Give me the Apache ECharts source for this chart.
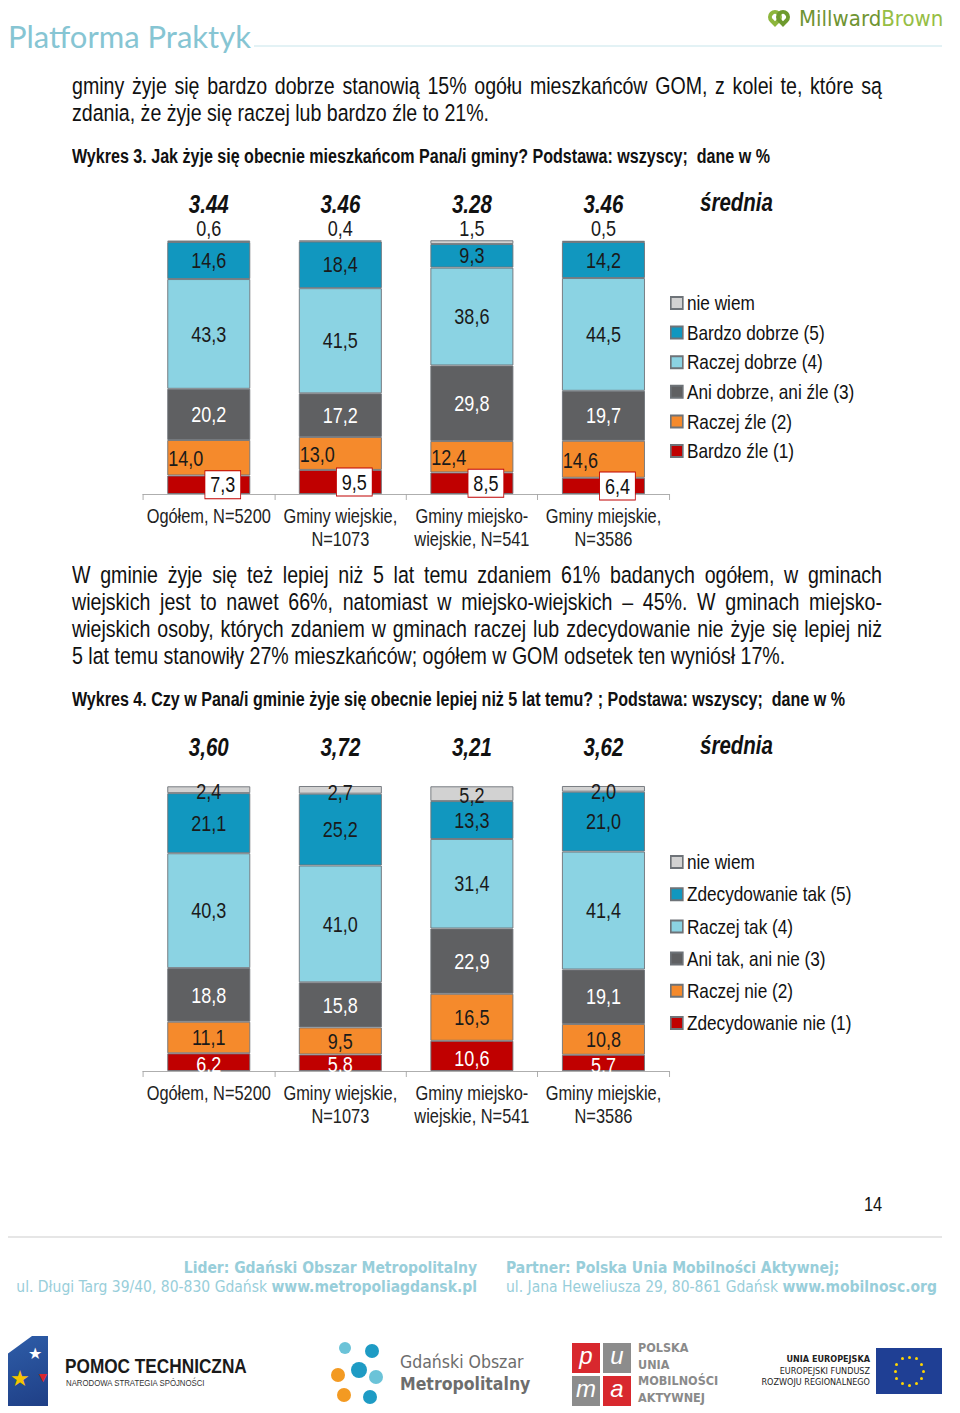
<!DOCTYPE html>
<html><head><meta charset="utf-8">
<script src="https://cdn.jsdelivr.net/npm/echarts@6/dist/echarts.min.js"></script>
<style>
html,body{margin:0;padding:0;background:#fff;}
body{width:960px;height:1413px;position:relative;overflow:hidden;font-family:"Liberation Sans",Arial,sans-serif;color:#111;}
.abs{position:absolute;}
.n{transform:scaleX(0.82);transform-origin:0 0;font-family:"Liberation Sans",Arial,sans-serif;}
.line{position:absolute;left:72px;width:987.8px;font-size:23.9px;line-height:27px;white-space:nowrap;}
.just{text-align:justify;text-align-last:justify;white-space:normal;}
.cap{position:absolute;left:72px;font-size:19.6px;font-weight:bold;line-height:22px;white-space:pre;}
.foot{position:absolute;color:#98CEDA;font-size:15.5px;line-height:18px;white-space:nowrap;font-family:"DejaVu Sans Condensed",sans-serif;}
.foot b{font-weight:bold;}
.chart{position:absolute;left:0;width:1170.73px;transform:scaleX(0.82);transform-origin:0 0;}
</style></head>
<body>
<!-- header -->
<div class="abs" style="left:8px;top:16px;font-family:Lato,'Open Sans',sans-serif;font-size:31px;color:#86C5D3;line-height:40px;">Platforma Praktyk</div>
<div class="abs" style="left:254px;top:45px;width:688px;height:2px;background:#E3F2F5;"></div>
<div class="abs" style="left:766px;top:8px;width:26px;height:22px;">
  <div class="abs" style="left:2px;top:2px;width:14px;height:14px;border:4px solid #8DB63C;border-radius:50% 50% 0 50%;transform:rotate(45deg);box-sizing:border-box;"></div>
  <div class="abs" style="left:10px;top:2px;width:14px;height:14px;border:4px solid #6E9A2E;border-radius:50% 50% 50% 0;transform:rotate(-45deg);box-sizing:border-box;"></div>
</div>
<div class="abs" style="left:799px;top:6px;font-family:'DejaVu Sans Condensed',sans-serif;font-size:22px;line-height:26px;"><span style="color:#6F9432;">Millward</span><span style="color:#96BE45;">Brown</span></div>

<!-- paragraph 1 -->
<div class="line just n" style="top:72px;">gminy żyje się bardzo dobrze stanowią 15% ogółu mieszkańców GOM, z kolei te, które są</div>
<div class="line n" style="top:99px;">zdania, że żyje się raczej lub bardzo źle to 21%.</div>
<div class="cap n" style="top:145px;">Wykres 3. Jak żyje się obecnie mieszkańcom Pana/i gminy? Podstawa: wszyscy;  dane w %</div>

<div id="c1" class="chart" style="top:180px;height:380px;"></div>

<!-- paragraph 2 -->
<div class="line just n" style="top:561px;">W gminie żyje się też lepiej niż 5 lat temu zdaniem 61% badanych ogółem, w gminach</div>
<div class="line just n" style="top:588px;">wiejskich jest to nawet 66%, natomiast w miejsko-wiejskich – 45%. W gminach miejsko-</div>
<div class="line just n" style="top:615px;">wiejskich osoby, których zdaniem w gminach raczej lub zdecydowanie nie żyje się lepiej niż</div>
<div class="line n" style="top:642px;">5 lat temu stanowiły 27% mieszkańców; ogółem w GOM odsetek ten wyniósł 17%.</div>
<div class="cap n" style="top:688px;">Wykres 4. Czy w Pana/i gminie żyje się obecnie lepiej niż 5 lat temu? ; Podstawa: wszyscy;  dane w %</div>

<div id="c2" class="chart" style="top:725px;height:410px;"></div>

<div class="abs n" style="left:864px;top:1193px;font-size:20px;line-height:22px;">14</div>

<!-- footer -->
<div class="abs" style="left:8px;top:1236px;width:934px;height:2px;background:#E6E6E6;"></div>
<div class="foot" style="right:483px;top:1259px;"><b>Lider: Gdański Obszar Metropolitalny</b></div>
<div class="foot" style="right:483px;top:1278px;">ul. Długi Targ 39/40, 80-830 Gdańsk <b>www.metropoliagdansk.pl</b></div>
<div class="foot" style="left:506px;top:1259px;"><b>Partner: Polska Unia Mobilności Aktywnej;</b></div>
<div class="foot" style="left:506px;top:1278px;">ul. Jana Heweliusza 29, 80-861 Gdańsk <b>www.mobilnosc.org</b></div>

<!-- logos -->
<div class="abs" style="left:8px;top:1336px;width:40px;height:70px;background:linear-gradient(160deg,#2E5DA8 0%,#1F3F86 100%);clip-path:polygon(60% 0,100% 0,100% 100%,0 100%,0 25%);"></div>
<div class="abs" style="left:10px;top:1368px;color:#F5C400;font-size:22px;line-height:22px;">★</div>
<div class="abs" style="left:28px;top:1346px;color:#fff;font-size:16px;line-height:16px;">★</div>
<div class="abs" style="left:36px;top:1370px;color:#D8282E;font-size:14px;line-height:14px;">▼</div>
<div class="abs n" style="left:65px;top:1354px;font-size:21px;font-weight:bold;color:#1a1a1a;line-height:24px;white-space:nowrap;">POMOC TECHNICZNA</div>
<div class="abs n" style="left:66px;top:1378px;font-size:9.5px;color:#333;line-height:10px;white-space:nowrap;">NARODOWA STRATEGIA SPÓJNOŚCI</div>

<div class="abs" style="left:331px;top:1340px;width:56px;height:66px;">
  <div class="abs" style="left:8px;top:2px;width:12px;height:12px;border-radius:50%;background:#6BC3D8;"></div>
  <div class="abs" style="left:34px;top:4px;width:14px;height:14px;border-radius:50%;background:#1E9BC4;"></div>
  <div class="abs" style="left:20px;top:22px;width:16px;height:16px;border-radius:50%;background:#1E9BC4;"></div>
  <div class="abs" style="left:0px;top:28px;width:14px;height:14px;border-radius:50%;background:#F39A22;"></div>
  <div class="abs" style="left:38px;top:30px;width:14px;height:14px;border-radius:50%;background:#6BC3D8;"></div>
  <div class="abs" style="left:6px;top:48px;width:14px;height:14px;border-radius:50%;background:#F39A22;"></div>
  <div class="abs" style="left:32px;top:50px;width:14px;height:14px;border-radius:50%;background:#1E9BC4;"></div>
</div>
<div class="abs" style="left:400px;top:1351px;font-family:'DejaVu Sans Condensed',sans-serif;font-size:17.5px;color:#6d6d6d;line-height:22px;">Gdański Obszar</div>
<div class="abs" style="left:400px;top:1373px;font-family:'DejaVu Sans Condensed',sans-serif;font-size:17.5px;font-weight:bold;color:#6d6d6d;line-height:22px;">Metropolitalny</div>

<div class="abs" style="left:572px;top:1343px;width:28px;height:30px;background:#D8282E;color:#fff;font-size:24px;line-height:26px;text-align:center;font-style:italic;">p</div>
<div class="abs" style="left:603px;top:1343px;width:28px;height:30px;background:#8C8C8C;color:#fff;font-size:24px;line-height:26px;text-align:center;font-style:italic;">u</div>
<div class="abs" style="left:572px;top:1376px;width:28px;height:30px;background:#8C8C8C;color:#fff;font-size:24px;line-height:26px;text-align:center;font-style:italic;">m</div>
<div class="abs" style="left:603px;top:1376px;width:28px;height:30px;background:#D8282E;color:#fff;font-size:24px;line-height:26px;text-align:center;font-style:italic;">a</div>
<div class="abs" style="left:638px;top:1340px;font-family:'DejaVu Sans Condensed',sans-serif;font-size:12.5px;color:#8a8a8a;line-height:16.5px;font-weight:bold;">POLSKA<br>UNIA<br>MOBILNOŚCI<br>AKTYWNEJ</div>

<div class="abs" style="left:700px;top:1354px;width:170px;text-align:right;font-family:'DejaVu Sans Condensed',sans-serif;font-size:9px;line-height:11.5px;color:#222;"><b>UNIA EUROPEJSKA</b><br>EUROPEJSKI FUNDUSZ<br>ROZWOJU REGIONALNEGO</div>
<div id="eu" class="abs" style="left:876px;top:1348px;width:66px;height:46px;background:#1F3F94;"></div>

<script>
// ---------- DATA ----------
var categories = ['Ogółem, N=5200', 'Gminy wiejskie,\nN=1073', 'Gminy miejsko-\nwiejskie, N=541', 'Gminy miejskie,\nN=3586'];

// Wykres 3
var names1 = ['nie wiem', 'Bardzo dobrze (5)', 'Raczej dobrze (4)', 'Ani dobrze, ani źle (3)', 'Raczej źle (2)', 'Bardzo źle (1)'];
var bardzoZle1    = [7.3, 9.5, 8.5, 6.4];
var raczejZle1    = [14.0, 13.0, 12.4, 14.6];
var ani1          = [20.2, 17.2, 29.8, 19.7];
var raczejDobrze1 = [43.3, 41.5, 38.6, 44.5];
var bardzoDobrze1 = [14.6, 18.4, 9.3, 14.2];
var nieWiem1      = [0.6, 0.4, 1.5, 0.5];
var means1        = ['3.44', '3.46', '3.28', '3.46'];

// Wykres 4
var names2 = ['nie wiem', 'Zdecydowanie tak (5)', 'Raczej tak (4)', 'Ani tak, ani nie (3)', 'Raczej nie (2)', 'Zdecydowanie nie (1)'];
var zdecNie2   = [6.2, 5.8, 10.6, 5.7];
var raczejNie2 = [11.1, 9.5, 16.5, 10.8];
var aniTak2    = [18.8, 15.8, 22.9, 19.1];
var raczejTak2 = [40.3, 41.0, 31.4, 41.4];
var zdecTak2   = [21.1, 25.2, 13.3, 21.0];
var nieWiem2   = [2.4, 2.7, 5.2, 2.0];
var means2     = ['3,60', '3,72', '3,21', '3,62'];

// ---------- STYLE ----------
// Chart containers are drawn in a wider box and squeezed horizontally by SX,
// which turns Liberation Sans into an Arial-Narrow-like face.
var SX = 0.82;
var FONT = '"Liberation Sans", Arial, sans-serif';
var COLORS = {gray:'#D2D2D2', teal:'#1197BF', light:'#8BD3E3', dark:'#5F6062', orange:'#F58A2C', red:'#C00000'};
function fmt(p){ return p.value.toFixed(1).replace('.', ','); }

function seg(name, data, color, label){
  var l = Object.assign({show:true, formatter:fmt, fontFamily:FONT, fontSize:22, color:'#1a1a1a', position:'inside'}, label || {});
  return {name:name, type:'bar', stack:'s', data:data, barCategoryGap:'37%',
    itemStyle:{color:color, borderColor:'#6E7378', borderWidth:1},
    label:l, emphasis:{disabled:true}};
}

function baseOption(o){
  var W = 960 / SX;
  return {
    animation:false,
    grid:{left:143 / SX, right:W - 669 / SX, top:o.top, bottom:o.bottom},
    xAxis:[
      {type:'category', data:categories, gridIndex:0,
       axisLine:{lineStyle:{color:'#A6A6A6', width:1}},
       axisTick:{show:true, length:6, lineStyle:{color:'#A6A6A6'}},
       axisLabel:{interval:0, fontFamily:FONT, fontSize:20, lineHeight:22.5, color:'#222', margin:11}},
      {type:'category', data:o.means, gridIndex:0, position:'top',
       axisLine:{show:false}, axisTick:{show:false},
       axisLabel:{interval:0, fontFamily:FONT, fontSize:25, lineHeight:22, fontStyle:'italic', fontWeight:'bold', color:'#111', margin:o.meanMargin}}
    ],
    yAxis:{type:'value', min:0, max:100, show:false},
    legend:{orient:'vertical', left:670 / SX, top:o.legendTop, padding:0, itemWidth:12 / SX, itemHeight:12, itemGap:o.legendGap,
      icon:'rect', data:o.names, selectedMode:false,
      textStyle:{fontFamily:FONT, fontSize:21, lineHeight:21, color:'#111'}},
    graphic:[{type:'text', left:700 / SX, top:o.sredTop,
      style:{text:'średnia', fontFamily:FONT, fontSize:25, fontStyle:'italic', fontWeight:'bold', fill:'#111'}}],
    series:o.series
  };
}

var c1 = echarts.init(document.getElementById('c1'), null, {renderer:'svg'});
c1.setOption(baseOption({
  top:60.5, bottom:66, means:means1, meanMargin:25, legendTop:112.5, legendGap:8.6, sredTop:10, names:names1,
  series:[
    seg(names1[5], bardzoZle1, COLORS.red, {offset:[14 / SX, 0], backgroundColor:'#fff', borderColor:'#C00000', borderWidth:1, padding:[3, 6, 2, 6], color:'#111'}),
    seg(names1[4], raczejZle1, COLORS.orange, {position:'insideLeft', distance:1, offset:[0, 1]}),
    seg(names1[3], ani1, COLORS.dark, {color:'#fff'}),
    seg(names1[2], raczejDobrze1, COLORS.light),
    seg(names1[1], bardzoDobrze1, COLORS.teal),
    seg(names1[0], nieWiem1, COLORS.gray, {position:'top', distance:2, lineHeight:20})
  ]
}));

var c2 = echarts.init(document.getElementById('c2'), null, {renderer:'svg'});
c2.setOption(baseOption({
  top:61, bottom:64, means:means2, meanMargin:28, legendTop:126.5, legendGap:11.2, sredTop:8, names:names2,
  series:[
    seg(names2[5], zdecNie2, COLORS.red, {color:'#fff', offset:[0, 2]}),
    seg(names2[4], raczejNie2, COLORS.orange),
    seg(names2[3], aniTak2, COLORS.dark, {color:'#fff'}),
    seg(names2[2], raczejTak2, COLORS.light),
    seg(names2[1], zdecTak2, COLORS.teal),
    seg(names2[0], nieWiem2, COLORS.gray, {offset:[0, 2]})
  ]
}));

// EU flag stars
(function(){
  var eu = document.getElementById('eu');
  for (var i = 0; i < 12; i++) {
    var a = i * Math.PI / 6;
    var s = document.createElement('div');
    s.style.cssText = 'position:absolute;width:3px;height:3px;background:#FFD500;border-radius:50%;left:' + (31.5 + 14 * Math.cos(a)) + 'px;top:' + (21.5 + 14 * Math.sin(a)) + 'px;';
    eu.appendChild(s);
  }
})();
</script>
</body></html>
